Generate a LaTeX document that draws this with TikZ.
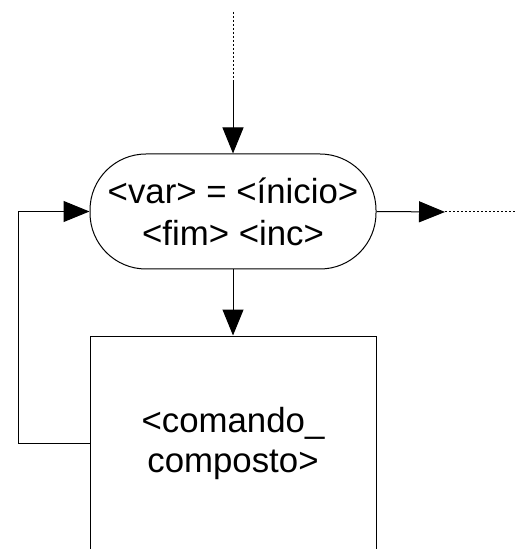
\documentclass[tikz,border=0pt]{standalone}
\usepackage{fontspec}
\setmainfont{Liberation Sans}
\usetikzlibrary{arrows.meta}
\tikzset{
  line/.style={draw=black, line width=0.5pt},
  flow/.style={line, -{Triangle[length=13pt,width=10.5pt]}},
  dots/.style={line, dash pattern=on 1pt off 1pt},
  term/.style={line, rectangle, rounded corners=28pt, minimum width=143pt, minimum height=57.5pt, inner sep=0pt, align=center, font=\fontsize{17.4}{21}\selectfont},
  block/.style={line, rectangle, minimum width=143pt, minimum height=107pt, inner sep=0pt, align=center, font=\fontsize{17.4}{20}\selectfont},
}
\begin{document}
\begin{tikzpicture}[x=0.5pt,y=-0.5pt]
  \useasboundingbox (0,0) rectangle (515,549);
  \clip (0,0) rectangle (515,549);

  \node[term] (loop) at (233,211.5) {<var> = <ínicio>\\<fim> <inc>};
  \node[block] (body) at (233,443) {<comando\_\\composto>};

  \coordinate (top) at (233,12);
  \coordinate (mid) at (233,80);
  \coordinate (out) at (445,212);
  \coordinate (end) at (515,212);
  \coordinate (back) at (18,443);

  % entrada
  \draw[dots] (top) -- (mid);
  \draw[flow] (mid) -- (loop);

  % saida
  \draw[flow] (loop.east) -- (out);
  \draw[dots] (out) -- (end);

  % corpo e retorno
  \draw[flow] (loop) -- (body);
  \draw[flow] (body.west) -- (back) |- (loop.west);
\end{tikzpicture}
\end{document}
